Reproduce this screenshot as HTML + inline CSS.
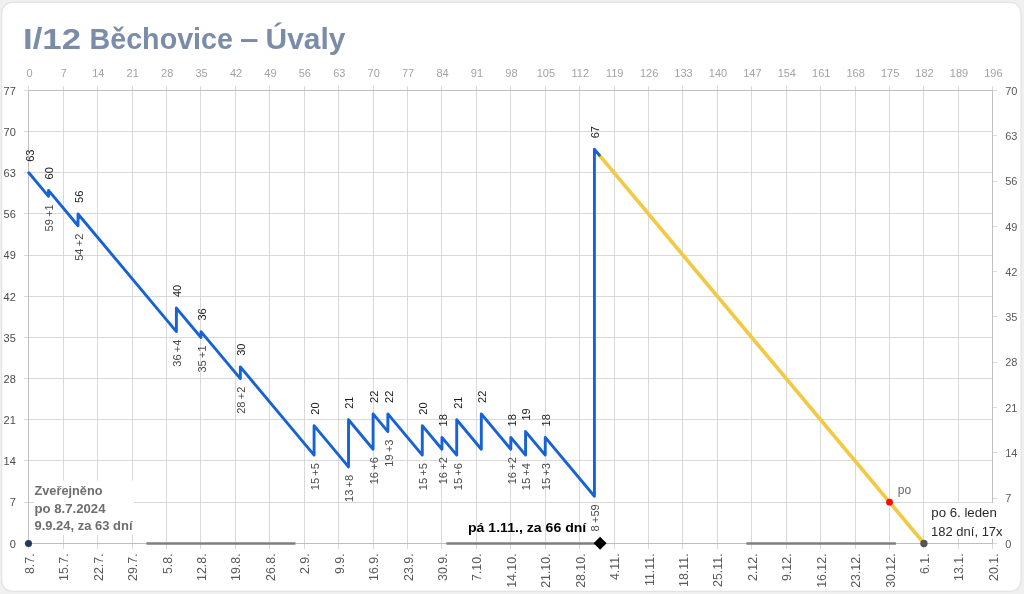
<!DOCTYPE html>
<html lang="cs"><head><meta charset="utf-8"><title>I/12 Běchovice – Úvaly</title>
<style>html,body{margin:0;padding:0;background:#f0f0f0;}body{width:1024px;height:594px;overflow:hidden;}svg{display:block;}text{font-family:"Liberation Sans", sans-serif;}</style>
</head><body>
<svg width="1024" height="594" viewBox="0 0 1024 594">
<rect x="0" y="0" width="1024" height="594" fill="#f0f0f0"/>
<rect x="1.7" y="2.4" width="1019.3" height="588.9" rx="10.5" ry="10.5" fill="#ffffff" stroke="#e3e3e3" stroke-width="1.2"/>
<text y="49.3" font-size="28.8" font-weight="bold" fill="#7b8ca8"><tspan x="23" textLength="58" lengthAdjust="spacingAndGlyphs">I/12</tspan> <tspan x="89.5" textLength="143.5" lengthAdjust="spacingAndGlyphs">Běchovice</tspan> <tspan x="240" textLength="18.5" lengthAdjust="spacingAndGlyphs">–</tspan> <tspan x="265.5" textLength="80" lengthAdjust="spacingAndGlyphs">Úvaly</tspan></text>
<g stroke="#d9d9d9" stroke-width="1" fill="none">
<line x1="28.5" y1="86" x2="28.5" y2="549"/>
<line x1="63.5" y1="86" x2="63.5" y2="549"/>
<line x1="97.5" y1="86" x2="97.5" y2="549"/>
<line x1="132.5" y1="86" x2="132.5" y2="549"/>
<line x1="166.5" y1="86" x2="166.5" y2="549"/>
<line x1="200.5" y1="86" x2="200.5" y2="549"/>
<line x1="235.5" y1="86" x2="235.5" y2="549"/>
<line x1="269.5" y1="86" x2="269.5" y2="549"/>
<line x1="304.5" y1="86" x2="304.5" y2="549"/>
<line x1="338.5" y1="86" x2="338.5" y2="549"/>
<line x1="373.5" y1="86" x2="373.5" y2="549"/>
<line x1="407.5" y1="86" x2="407.5" y2="549"/>
<line x1="441.5" y1="86" x2="441.5" y2="549"/>
<line x1="476.5" y1="86" x2="476.5" y2="549"/>
<line x1="510.5" y1="86" x2="510.5" y2="549"/>
<line x1="545.5" y1="86" x2="545.5" y2="549"/>
<line x1="579.5" y1="86" x2="579.5" y2="549"/>
<line x1="614.5" y1="86" x2="614.5" y2="549"/>
<line x1="648.5" y1="86" x2="648.5" y2="549"/>
<line x1="682.5" y1="86" x2="682.5" y2="549"/>
<line x1="717.5" y1="86" x2="717.5" y2="549"/>
<line x1="751.5" y1="86" x2="751.5" y2="549"/>
<line x1="786.5" y1="86" x2="786.5" y2="549"/>
<line x1="820.5" y1="86" x2="820.5" y2="549"/>
<line x1="855.5" y1="86" x2="855.5" y2="549"/>
<line x1="889.5" y1="86" x2="889.5" y2="549"/>
<line x1="923.5" y1="86" x2="923.5" y2="549"/>
<line x1="958.5" y1="86" x2="958.5" y2="549"/>
<line x1="992.5" y1="86" x2="992.5" y2="549"/>
<line x1="24" y1="543.5" x2="992.5" y2="543.5"/>
<line x1="24" y1="502.5" x2="992.5" y2="502.5"/>
<line x1="24" y1="460.5" x2="992.5" y2="460.5"/>
<line x1="24" y1="419.5" x2="992.5" y2="419.5"/>
<line x1="24" y1="378.5" x2="992.5" y2="378.5"/>
<line x1="24" y1="337.5" x2="992.5" y2="337.5"/>
<line x1="24" y1="296.5" x2="992.5" y2="296.5"/>
<line x1="24" y1="255.5" x2="992.5" y2="255.5"/>
<line x1="24" y1="213.5" x2="992.5" y2="213.5"/>
<line x1="24" y1="172.5" x2="992.5" y2="172.5"/>
<line x1="24" y1="131.5" x2="992.5" y2="131.5"/>
<line x1="24" y1="90.5" x2="992.5" y2="90.5"/>
<line x1="992.5" y1="543.5" x2="997" y2="543.5"/>
<line x1="992.5" y1="498.5" x2="997" y2="498.5"/>
<line x1="992.5" y1="452.5" x2="997" y2="452.5"/>
<line x1="992.5" y1="407.5" x2="997" y2="407.5"/>
<line x1="992.5" y1="362.5" x2="997" y2="362.5"/>
<line x1="992.5" y1="316.5" x2="997" y2="316.5"/>
<line x1="992.5" y1="271.5" x2="997" y2="271.5"/>
<line x1="992.5" y1="226.5" x2="997" y2="226.5"/>
<line x1="992.5" y1="181.5" x2="997" y2="181.5"/>
<line x1="992.5" y1="135.5" x2="997" y2="135.5"/>
<line x1="992.5" y1="90.5" x2="997" y2="90.5"/>
</g>
<g stroke="#bfbfbf" stroke-width="1" fill="none">
<line x1="28.5" y1="90.5" x2="992.5" y2="90.5"/>
<line x1="28.5" y1="543.5" x2="992.5" y2="543.5"/>
<line x1="28.5" y1="90.5" x2="28.5" y2="543.5"/>
<line x1="992.5" y1="90.5" x2="992.5" y2="543.5"/>
</g>
<rect x="34" y="480.5" width="99.5" height="54.5" fill="#ffffff"/>
<rect x="924.2" y="503" width="80" height="35.8" fill="#ffffff"/>
<g font-size="11" fill="#a3a3a3" text-anchor="middle">
<text x="29.45" y="77.4">0</text>
<text x="63.88" y="77.4">7</text>
<text x="98.3" y="77.4">14</text>
<text x="132.73" y="77.4">21</text>
<text x="167.15" y="77.4">28</text>
<text x="201.58" y="77.4">35</text>
<text x="236.01" y="77.4">42</text>
<text x="270.43" y="77.4">49</text>
<text x="304.86" y="77.4">56</text>
<text x="339.28" y="77.4">63</text>
<text x="373.71" y="77.4">70</text>
<text x="408.14" y="77.4">77</text>
<text x="442.56" y="77.4">84</text>
<text x="476.99" y="77.4">91</text>
<text x="511.41" y="77.4">98</text>
<text x="545.84" y="77.4">105</text>
<text x="580.27" y="77.4">112</text>
<text x="614.69" y="77.4">119</text>
<text x="649.12" y="77.4">126</text>
<text x="683.54" y="77.4">133</text>
<text x="717.97" y="77.4">140</text>
<text x="752.4" y="77.4">147</text>
<text x="786.82" y="77.4">154</text>
<text x="821.25" y="77.4">161</text>
<text x="855.67" y="77.4">168</text>
<text x="890.1" y="77.4">175</text>
<text x="924.53" y="77.4">182</text>
<text x="958.95" y="77.4">189</text>
<text x="993.38" y="77.4">196</text>
</g>
<g font-size="11" fill="#4a4a4a" text-anchor="end">
<text x="15.8" y="547.6">0</text>
<text x="15.8" y="506.43">7</text>
<text x="15.8" y="465.27">14</text>
<text x="15.8" y="424.1">21</text>
<text x="15.8" y="382.93">28</text>
<text x="15.8" y="341.76">35</text>
<text x="15.8" y="300.6">42</text>
<text x="15.8" y="259.43">49</text>
<text x="15.8" y="218.26">56</text>
<text x="15.8" y="177.1">63</text>
<text x="15.8" y="135.93">70</text>
<text x="15.8" y="94.76">77</text>
</g>
<g font-size="11" fill="#5a5a5a" text-anchor="start">
<text x="1005.2" y="547.6">0</text>
<text x="1005.2" y="502.32">7</text>
<text x="1005.2" y="457.03">14</text>
<text x="1005.2" y="411.75">21</text>
<text x="1005.2" y="366.47">28</text>
<text x="1005.2" y="321.18">35</text>
<text x="1005.2" y="275.9">42</text>
<text x="1005.2" y="230.61">49</text>
<text x="1005.2" y="185.33">56</text>
<text x="1005.2" y="140.05">63</text>
<text x="1005.2" y="94.76">70</text>
</g>
<g font-size="12.4" fill="#5a5a5a" text-anchor="end">
<text transform="translate(33.85 553.4) rotate(-90)">8.7.</text>
<text transform="translate(68.28 553.4) rotate(-90)">15.7.</text>
<text transform="translate(102.7 553.4) rotate(-90)">22.7.</text>
<text transform="translate(137.13 553.4) rotate(-90)">29.7.</text>
<text transform="translate(171.55 553.4) rotate(-90)">5.8.</text>
<text transform="translate(205.98 553.4) rotate(-90)">12.8.</text>
<text transform="translate(240.41 553.4) rotate(-90)">19.8.</text>
<text transform="translate(274.83 553.4) rotate(-90)">26.8.</text>
<text transform="translate(309.26 553.4) rotate(-90)">2.9.</text>
<text transform="translate(343.68 553.4) rotate(-90)">9.9.</text>
<text transform="translate(378.11 553.4) rotate(-90)">16.9.</text>
<text transform="translate(412.54 553.4) rotate(-90)">23.9.</text>
<text transform="translate(446.96 553.4) rotate(-90)">30.9.</text>
<text transform="translate(481.39 553.4) rotate(-90)">7.10.</text>
<text transform="translate(515.81 553.4) rotate(-90)">14.10.</text>
<text transform="translate(550.24 553.4) rotate(-90)">21.10.</text>
<text transform="translate(584.67 553.4) rotate(-90)">28.10.</text>
<text transform="translate(619.09 553.4) rotate(-90)">4.11.</text>
<text transform="translate(653.52 553.4) rotate(-90)">11.11.</text>
<text transform="translate(687.94 553.4) rotate(-90)">18.11.</text>
<text transform="translate(722.37 553.4) rotate(-90)">25.11.</text>
<text transform="translate(756.8 553.4) rotate(-90)">2.12.</text>
<text transform="translate(791.22 553.4) rotate(-90)">9.12.</text>
<text transform="translate(825.65 553.4) rotate(-90)">16.12.</text>
<text transform="translate(860.07 553.4) rotate(-90)">23.12.</text>
<text transform="translate(894.5 553.4) rotate(-90)">30.12.</text>
<text transform="translate(928.93 553.4) rotate(-90)">6.1.</text>
<text transform="translate(963.35 553.4) rotate(-90)">13.1.</text>
<text transform="translate(997.78 553.4) rotate(-90)">20.1.</text>
</g>
<g stroke="#7f7f7f" stroke-width="2.6" stroke-linecap="butt">
<line x1="146.38" y1="543.5" x2="295.41" y2="543.5"/>
<line x1="446.38" y1="543.5" x2="599.34" y2="543.5"/>
<line x1="746.38" y1="543.5" x2="895.89" y2="543.5"/>
</g>
<line x1="599.34" y1="155.15" x2="923.93" y2="543.3" stroke="#f2c945" stroke-width="3.7" stroke-linecap="round"/>
<polyline fill="none" stroke="#1762d5" stroke-width="2.9" stroke-linejoin="round" stroke-linecap="round" points="28.85,172.8 48.52,196.32 48.52,190.44 78.03,225.73 78.03,213.96 176.39,331.58 176.39,308.06 200.98,337.46 200.98,331.58 240.32,378.63 240.32,366.87 314.09,455.08 314.09,425.68 348.52,466.85 348.52,419.8 373.11,449.2 373.11,413.92 387.86,431.56 387.86,413.92 422.29,455.08 422.29,425.68 441.96,449.2 441.96,437.44 456.72,455.08 456.72,419.8 481.31,449.2 481.31,413.92 510.81,449.2 510.81,437.44 525.57,455.08 525.57,431.56 545.24,455.08 545.24,437.44 594.42,496.25 594.42,149.27 599.34,155.15"/>
<g font-size="11" fill="#1a1a1a" text-anchor="start">
<text transform="translate(33.65 161.8) rotate(-90)">63</text>
<text transform="translate(53.32 179.44) rotate(-90)">60</text>
<text transform="translate(82.83 202.96) rotate(-90)">56</text>
<text transform="translate(181.19 297.06) rotate(-90)">40</text>
<text transform="translate(205.78 320.58) rotate(-90)">36</text>
<text transform="translate(245.12 355.87) rotate(-90)">30</text>
<text transform="translate(318.89 414.68) rotate(-90)">20</text>
<text transform="translate(353.32 408.8) rotate(-90)">21</text>
<text transform="translate(377.91 402.92) rotate(-90)">22</text>
<text transform="translate(392.66 402.92) rotate(-90)">22</text>
<text transform="translate(427.09 414.68) rotate(-90)">20</text>
<text transform="translate(446.76 426.44) rotate(-90)">18</text>
<text transform="translate(461.52 408.8) rotate(-90)">21</text>
<text transform="translate(486.11 402.92) rotate(-90)">22</text>
<text transform="translate(515.61 426.44) rotate(-90)">18</text>
<text transform="translate(530.37 420.56) rotate(-90)">19</text>
<text transform="translate(550.04 426.44) rotate(-90)">18</text>
<text transform="translate(599.22 138.27) rotate(-90)">67</text>
</g>
<g font-size="11" fill="#4a4a4a" text-anchor="end" word-spacing="-0.7">
<text transform="translate(53.32 204.32) rotate(-90)">59 +1</text>
<text transform="translate(82.83 233.73) rotate(-90)">54 +2</text>
<text transform="translate(181.19 339.58) rotate(-90)">36 +4</text>
<text transform="translate(205.78 345.46) rotate(-90)">35 +1</text>
<text transform="translate(245.12 386.63) rotate(-90)">28 +2</text>
<text transform="translate(318.89 463.08) rotate(-90)">15 +5</text>
<text transform="translate(353.32 474.85) rotate(-90)">13 +8</text>
<text transform="translate(377.91 457.2) rotate(-90)">16 +6</text>
<text transform="translate(392.66 439.56) rotate(-90)">19 +3</text>
<text transform="translate(427.09 463.08) rotate(-90)">15 +5</text>
<text transform="translate(446.76 457.2) rotate(-90)">16 +2</text>
<text transform="translate(461.52 463.08) rotate(-90)">15 +6</text>
<text transform="translate(515.61 457.2) rotate(-90)">16 +2</text>
<text transform="translate(530.37 463.08) rotate(-90)">15 +4</text>
<text transform="translate(550.04 463.08) rotate(-90)">15 +3</text>
<text transform="translate(599.22 504.25) rotate(-90)">8 +59</text>
</g>
<circle cx="28.5" cy="543.5" r="3.5" fill="#1f3864"/>
<circle cx="889.5" cy="502.13" r="3.4" fill="#ee1111"/>
<circle cx="923.93" cy="543.5" r="3.7" fill="#555555"/>
<polygon points="593.64,543.2 600.14,536.7 606.64,543.2 600.14,549.7" fill="#000000"/>
<g font-size="12.5" font-weight="bold" fill="#6e6e6e">
<text x="34.5" y="494.8" textLength="68" lengthAdjust="spacingAndGlyphs">Zveřejněno</text>
<text x="34.5" y="512.5" textLength="71" lengthAdjust="spacingAndGlyphs">po 8.7.2024</text>
<text x="34.5" y="530.1" textLength="98" lengthAdjust="spacingAndGlyphs">9.9.24, za 63 dní</text>
</g>
<text x="468" y="531.5" font-size="12.3" font-weight="bold" fill="#000000" textLength="118.3" lengthAdjust="spacingAndGlyphs">pá 1.11., za 66 dní</text>
<text x="897.8" y="493.5" font-size="12" fill="#666666">po</text>
<g font-size="12.6" fill="#2a2a2a">
<text x="931.3" y="517.1" textLength="65.5" lengthAdjust="spacingAndGlyphs">po 6. leden</text>
<text x="931.1" y="535.5" textLength="71.5" lengthAdjust="spacingAndGlyphs">182 dní, 17x</text>
</g>
</svg>
</body></html>
